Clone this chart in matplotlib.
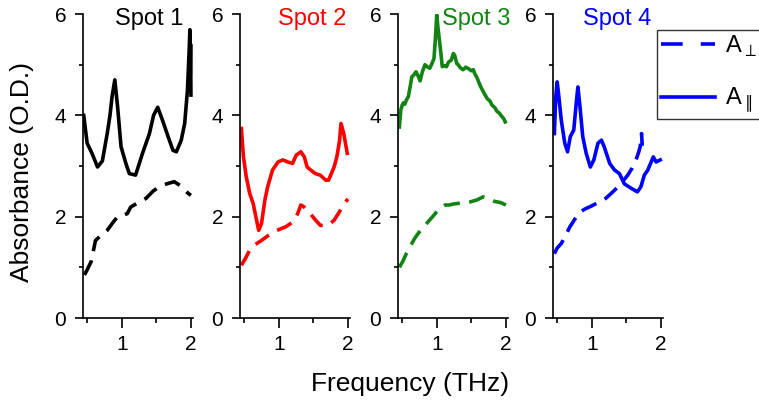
"""
Absorbance spectra at four spots: parallel (solid) and perpendicular (dashed)
"""
import matplotlib
matplotlib.use('Agg')
import matplotlib.pyplot as plt
from matplotlib.lines import Line2D
from matplotlib.ticker import MultipleLocator

plt.rcParams['font.family'] = ['Liberation Sans', 'DejaVu Sans']

# ---- data ----
spot_names = ['Spot 1', 'Spot 2', 'Spot 3', 'Spot 4']
spot_colors = ['black', '#ff0000', '#138413', '#0000ff']

# Spot 1
f1_par = [0.45, 0.50, 0.57, 0.65, 0.72, 0.79, 0.83, 0.86, 0.90, 0.94, 0.99, 1.06, 1.11,
          1.20, 1.30, 1.40, 1.46, 1.52, 1.59, 1.67, 1.74, 1.79, 1.86, 1.91, 1.95,
          1.975, 1.985, 1.99, 1.995, 2.0]
a1_par = [4.00, 3.45, 3.25, 2.98, 3.10, 3.64, 4.00, 4.37, 4.70, 4.17, 3.38, 3.05, 2.85,
          2.82, 3.25, 3.64, 4.00, 4.16, 3.90, 3.58, 3.31, 3.28, 3.51, 3.84, 4.50,
          5.30, 5.69, 4.80, 5.40, 4.40]
f1_perp = [0.46, 0.50, 0.56, 0.62, 0.70, 0.79, 0.87, 0.94, 1.02, 1.08, 1.13, 1.24, 1.35,
           1.45, 1.53, 1.59, 1.68, 1.76, 1.86, 1.96, 2.0]
a1_perp = [0.85, 0.95, 1.12, 1.53, 1.63, 1.73, 1.88, 2.00, 2.03, 2.06, 2.19, 2.28, 2.36,
           2.50, 2.58, 2.62, 2.66, 2.69, 2.60, 2.46, 2.42]

# Spot 2
f2_par = [0.46, 0.49, 0.53, 0.58, 0.63, 0.68, 0.71, 0.75, 0.80, 0.84, 0.91, 0.99, 1.06,
          1.13, 1.20, 1.25, 1.32, 1.37, 1.41, 1.49, 1.53, 1.60, 1.68, 1.72, 1.80,
          1.84, 1.88, 1.90, 1.94, 1.99]
a2_par = [3.74, 3.18, 2.79, 2.46, 2.26, 1.93, 1.73, 1.86, 2.33, 2.59, 2.92, 3.08, 3.12,
          3.08, 3.05, 3.21, 3.28, 3.18, 2.98, 2.89, 2.85, 2.82, 2.72, 2.72, 2.98,
          3.18, 3.51, 3.84, 3.64, 3.25]
f2_perp = [0.46, 0.52, 0.58, 0.66, 0.75, 0.85, 0.93, 1.01, 1.10, 1.21, 1.27, 1.32, 1.36,
           1.44, 1.52, 1.60, 1.68, 1.74, 1.80, 1.87, 1.93, 2.0]
a2_perp = [1.04, 1.18, 1.34, 1.45, 1.53, 1.63, 1.70, 1.75, 1.80, 1.90, 2.05, 2.23, 2.20,
           2.09, 1.95, 1.83, 1.82, 1.86, 1.93, 2.08, 2.23, 2.35]

# Spot 3
f3_par = [0.46, 0.48, 0.50, 0.52, 0.54, 0.56, 0.59, 0.62, 0.64, 0.67, 0.70, 0.73, 0.76,
          0.79, 0.83, 0.86, 0.90, 0.93, 0.96, 0.98, 1.00, 1.02, 1.05, 1.08, 1.11,
          1.14, 1.17, 1.21, 1.24, 1.26, 1.29, 1.31, 1.34, 1.38, 1.42, 1.46, 1.50,
          1.53, 1.55, 1.58, 1.60, 1.63, 1.66, 1.70, 1.73, 1.77, 1.80, 1.84, 1.87,
          1.90, 1.94, 1.97, 1.99]
a3_par = [3.77, 4.10, 4.20, 4.25, 4.22, 4.30, 4.37, 4.60, 4.76, 4.80, 4.86, 4.78, 4.68,
          4.85, 5.00, 4.96, 4.93, 5.02, 5.12, 5.50, 5.98, 5.70, 5.35, 4.96, 4.98,
          4.96, 5.05, 5.09, 5.22, 5.18, 5.02, 5.00, 4.94, 4.90, 4.95, 4.92, 4.88,
          4.90, 4.82, 4.75, 4.68, 4.58, 4.50, 4.40, 4.33, 4.28, 4.20, 4.15, 4.08,
          4.05, 3.98, 3.93, 3.87]
f3_perp = [0.46, 0.51, 0.56, 0.62, 0.68, 0.76, 0.85, 0.94, 1.02, 1.08, 1.12, 1.18, 1.24,
           1.36, 1.48, 1.58, 1.67, 1.75, 1.84, 1.92, 2.0]
a3_perp = [1.00, 1.12, 1.27, 1.42, 1.57, 1.72, 1.86, 2.00, 2.13, 2.20, 2.23, 2.23, 2.25,
           2.27, 2.29, 2.33, 2.39, 2.35, 2.30, 2.28, 2.23]

# Spot 4
f4_par = [0.46, 0.48, 0.50, 0.52, 0.56, 0.61, 0.65, 0.69, 0.74, 0.78, 0.80, 0.83, 0.87,
          0.92, 0.98, 1.03, 1.09, 1.14, 1.18, 1.26, 1.33, 1.40, 1.47, 1.57, 1.66,
          1.71, 1.76, 1.81, 1.85, 1.89, 1.93, 1.99]
a4_par = [3.64, 4.37, 4.66, 4.43, 3.90, 3.45, 3.28, 3.58, 3.71, 4.30, 4.56, 4.17, 3.58,
          3.25, 2.98, 3.12, 3.45, 3.51, 3.38, 3.05, 2.92, 2.85, 2.65, 2.56, 2.49,
          2.59, 2.82, 2.92, 3.05, 3.18, 3.08, 3.12]
f4_perp = [0.46, 0.50, 0.56, 0.62, 0.68, 0.75, 0.83, 0.90, 0.98, 1.08, 1.20, 1.29, 1.38,
           1.45, 1.52, 1.58, 1.64, 1.68, 1.70, 1.72, 1.73]
a4_perp = [1.27, 1.38, 1.47, 1.62, 1.79, 1.94, 2.09, 2.15, 2.20, 2.27, 2.36, 2.47, 2.59,
           2.70, 2.82, 2.95, 3.12, 3.28, 3.38, 3.64, 3.40]

par_data = [(f1_par, a1_par), (f2_par, a2_par), (f3_par, a3_par), (f4_par, a4_par)]
perp_data = [(f1_perp, a1_perp), (f2_perp, a2_perp), (f3_perp, a3_perp), (f4_perp, a4_perp)]
label_xpos = [0.60, 0.66, 0.71, 0.58]

# ---- figure ----
W, H = 759, 404
fig = plt.figure(figsize=(W / 100, H / 100), dpi=100)

panel_left = [83, 240, 398, 553]   # pixel positions of the y axes
panel_w = 110
ax_top, ax_bot = 14, 318
LW = 2.6

axes = []
for i in range(4):
    ax = fig.add_axes([panel_left[i] / W, 1 - ax_bot / H,
                       panel_w / W, (ax_bot - ax_top) / H])
    axes.append(ax)
    c = spot_colors[i]
    fx, ax_par = par_data[i]
    px, ax_perp = perp_data[i]
    ax.plot(fx, ax_par, color=c, lw=LW, solid_joinstyle='round')
    ax.plot(px, ax_perp, color=c, lw=LW, dashes=(4.5, 2.6), dash_capstyle='butt')

    ax.set_xlim(0.44, 2.03)
    ax.set_ylim(0, 6)
    ax.xaxis.set_major_locator(MultipleLocator(1))
    ax.xaxis.set_minor_locator(MultipleLocator(0.5))
    ax.yaxis.set_major_locator(MultipleLocator(2))
    ax.yaxis.set_minor_locator(MultipleLocator(1))
    for s in ['top', 'right']:
        ax.spines[s].set_visible(False)
    for s in ['left', 'bottom']:
        ax.spines[s].set_linewidth(1.2)
    ax.tick_params(axis='x', which='major', length=7, width=1.2, labelsize=15, pad=5)
    ax.tick_params(axis='x', which='minor', length=3.5, width=1.2)
    ax.tick_params(axis='y', which='major', length=6, width=1.2, labelsize=15, pad=6)
    ax.tick_params(axis='y', which='minor', length=3, width=1.2)
    ax.patch.set_alpha(0)

    ax.text(label_xpos[i], 0.964, spot_names[i], color=c, fontsize=17,
            ha='center', va='baseline', transform=ax.transAxes)

fig.text(410 / W, 1 - 384 / H, 'Frequency (THz)', fontsize=19, ha='center', va='center')
fig.text(22 / W, 1 - 172 / H, 'Absorbance (O.D.)', fontsize=19, ha='center', va='center',
         rotation=90)

handles = [Line2D([], [], color='#0000ff', lw=LW, dashes=(6, 5)),
           Line2D([], [], color='#0000ff', lw=LW)]
labels = [r'A$_{\perp}$', r'A$_{\parallel}$']
leg = fig.legend(handles, labels, loc='upper left', bbox_to_anchor=(657 / W, 1 - 30 / H),
                 fontsize=17, frameon=True, fancybox=False, edgecolor='black',
                 borderpad=0.15, labelspacing=1.15, handlelength=2.3, handletextpad=0.45,
                 borderaxespad=0)
leg.get_frame().set_linewidth(1.0)

fig.savefig('out.png', dpi=100, facecolor='white')
